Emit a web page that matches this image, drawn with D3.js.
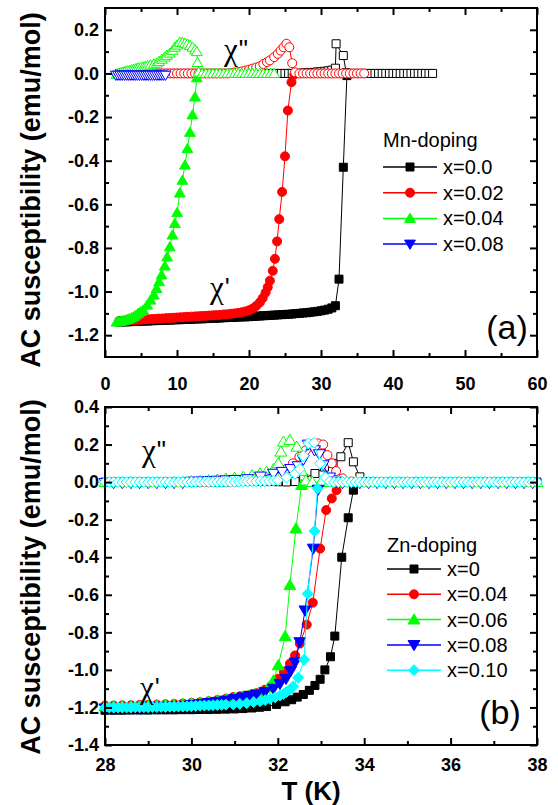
<!DOCTYPE html>
<html><head><meta charset="utf-8">
<script src="https://cdn.jsdelivr.net/npm/d3@7"></script>
<style>body{margin:0;background:#fff}svg{display:block}</style>
</head><body>
<svg id="c" width="558" height="805"></svg>
<script>
// ---------------- DATA : panel (a) Mn-doping ----------------
const mnLabels = ["x=0.0", "x=0.02", "x=0.04", "x=0.08"];
const mnTitle = "Mn-doping";
// x=0.0  chi' (T, value) and chi'' (T, value)
const mn0T1 = [2,2.5,3,3.5,4,4.5,5,5.5,6,6.5,7,7.5,8,8.5,9,9.5,10,10.5,11,11.5,12,12.5,13,13.5,14,14.5,15,15.5,16,16.5,17,17.5,18,18.5,19,19.5,20,20.5,21,21.5,22,22.5,23,23.5,24,24.5,25,25.5,26,26.5,27,27.5,28,28.5,29,29.5,30,30.5,31,31.5,32.0,32.5,33.1,33.6];
const mn0V1 = [-1.140,-1.139,-1.139,-1.138,-1.137,-1.137,-1.136,-1.135,-1.135,-1.134,
  -1.133,-1.133,-1.132,-1.131,-1.131,-1.130,-1.129,-1.129,-1.128,-1.127,
  -1.127,-1.126,-1.125,-1.125,-1.124,-1.123,-1.122,-1.122,-1.121,-1.120,
  -1.119,-1.119,-1.118,-1.117,-1.116,-1.116,-1.115,-1.114,-1.113,-1.112,
  -1.111,-1.110,-1.109,-1.108,-1.107,-1.106,-1.105,-1.104,-1.103,-1.101,
  -1.100,-1.098,-1.097,-1.095,-1.093,-1.091,-1.088,-1.085,-1.081,-1.075,
  -1.065,-0.943,-0.430,-0.010];
const mn0T2 = [2,2.5,3,3.5,4,4.5,5,5.5,6,6.5,7,7.5,8,8.5,9,9.5,10,10.5,11,11.5,12,12.5,13,13.5,14,14.5,15,15.5,16,16.5,17,17.5,18,18.5,19,19.5,20,20.5,21,21.5,22,22.5,23,23.5,24,24.5,25,25.5,26,26.5,27,27.5,28,28.5,29,29.5,30,30.5,31,31.5,32.0,32.1,33.1,33.5,34,34.5,35,35.5,36,36.5,37,37.5,38,38.5,39,39.5,40,40.5,41,41.5,42,42.5,43,43.5,44,44.5,45,45.5];
const mn0V2 = [0,0,0,0,0,0,0,0,0,0, 0,0,0,0,0,0,0,0,0,0, 0,0,0,0,0,0,0,0,0,0, 0,0,0,0,0,0,0,0,0,0, 0,0,0,0,0,0,0,0,0,0, 0,
  0.002,0.003,0.004,0.005,0.007,0.008,0.010,0.012,0.015,
  0.024,0.136,0.082,0.003,
  0,0,0,0,0,0,0,0,0,0, 0,0,0,0,0,0,0,0,0,0, 0,0,0,0];
// x=0.02
const mn2T1 = [2,2.5,3,3.5,4,4.5,5,5.5,6,6.5,7,7.5,8,8.5,9,9.5,10,10.5,11,11.5,12,12.5,13,13.5,14,14.5,15,15.5,16,16.5,17,17.5,18,18.5,19,19.5,20,20.5,21,21.5,21.9,22.3,22.6,22.9,23.3,23.6,23.9,24.2,24.6,25.0,25.4,25.9,26.3];
const mn2V1 = [-1.135,-1.134,-1.133,-1.132,-1.131,-1.130,-1.129,-1.128,-1.127,-1.126,
  -1.125,-1.124,-1.123,-1.122,-1.121,-1.120,-1.119,-1.118,-1.117,-1.116,
  -1.115,-1.114,-1.113,-1.112,-1.111,-1.110,-1.109,-1.108,-1.107,-1.105,
  -1.104,-1.102,-1.100,-1.098,-1.095,
  -1.091,-1.086,-1.078,-1.066,-1.050,-1.030,-1.005,-0.980,-0.950,-0.905,-0.850,-0.770,-0.668,-0.543,-0.380,-0.170,-0.040,-0.005];
const mn2T2 = [2,2.5,3,3.5,4,4.5,5,5.5,6,6.5,7,7.5,8,8.5,9,9.5,10,10.5,11,11.5,12,12.5,13,13.5,14,14.5,15,15.5,16,16.5,17,17.5,18,18.5,19,19.5,20,20.5,21.0,21.5,22.0,22.5,22.9,23.5,24.0,24.4,24.8,25.2,25.6,26.0,26.4,27,27.5,28,28.5,29,29.5,30,30.5,31,31.5,32,32.5,33,33.5,34,34.5,35,35.5,36];
const mn2V2 = [0,0,0,0,0,0,0,0,0,0, 0,0,0,0,0,0,0,0,0,0, 0,0,0,0,0,0,0,0,0,0, 0,
  0.002,0.004,0.006,0.009,0.013,0.017,
  0.022,0.027,0.033,0.043,0.052,0.060,0.075,0.090,0.105,0.120,0.136,0.120,0.047,0.005,
  0,0,0,0,0,0,0,0,0,0, 0,0,0,0,0,0,0,0,0];
// x=0.04
const mn4T1 = [1.6,1.9,2.2,2.5,2.8,3.1,3.4,3.7,4.0,4.3,4.6,4.95,5.3,5.86,6.33,6.79,7.16,7.52,7.85,8.31,8.63,9.0,9.37,9.7,10.02,10.39,10.75,11.1,11.45,11.8,12.15,12.5,12.75];
const mn4V1 = [-1.140,-1.138,-1.136,-1.134,-1.131,-1.128,-1.124,-1.120,-1.115,-1.108,-1.100,-1.093,-1.085,-1.062,-1.039,-1.016,-0.986,-0.955,-0.924,-0.883,-0.841,-0.795,-0.741,-0.688,-0.638,-0.548,-0.490,-0.420,-0.345,-0.270,-0.190,-0.108,-0.020];
const mn4T2 = [1.6,1.9,2.2,2.5,2.8,3.1,3.4,3.7,4.0,4.3,4.6,4.95,5.3,5.6,5.9,6.3,6.8,7.2,7.5,7.9,8.3,8.6,9.0,9.4,9.7,10.0,10.4,10.75,11.1,11.45,11.8,12.15,12.5,12.75,12.85,13.0,13.5,14,14.5,15,15.5,16,16.5,17,17.5,18,18.5,19,19.5,20,20.5,21,21.5,22,22.5,23,23.5];
const mn4V2 = [-0.005,0.000,0.003,0.006,0.009,0.012,0.014,0.017,0.019,0.022,0.025,0.027,0.029,0.032,0.035,0.039,0.043,0.047,0.055,0.065,0.075,0.083,0.093,0.106,0.120,0.130,0.143,0.142,0.138,0.135,0.128,0.120,0.108,0.100,0.050,0.006,
  0,0,0,0,0,0,0,0,0,0, 0,0,0,0,0,0,0,0,0,0, 0];
// x=0.08
const mn8T1 = [];
const mn8V1 = [];
const mn8T2 = [1.5,1.8,2.1,2.4,2.7,3.0,3.3,3.6,3.9,4.2,4.5,4.8,5.1,5.4,5.7,6.0,6.3,6.6,6.9,7.2,7.5,7.8,8.1,8.4];
const mn8V2 = [-0.008,-0.008,-0.008,-0.008,-0.008,-0.008,-0.008,-0.008,-0.008,-0.008,-0.008,-0.008,-0.008,-0.008,-0.008,-0.008,-0.008,-0.008,-0.008,-0.008,-0.008,-0.008,-0.008,-0.008];

// ---------------- DATA : panel (b) Zn-doping ----------------
const znLabels = ["x=0", "x=0.04", "x=0.06", "x=0.08", "x=0.10"];
const znTitle = "Zn-doping";
const zn0T1 = [28.0,28.2,28.4,28.6,28.8,29.0,29.2,29.4,29.6,29.8,30.0,30.2,30.4,30.6,30.8,31.0,31.2,31.4,31.58,31.74,31.97,32.17,32.32,32.45,32.59,32.73,32.86,32.98,33.09,33.22,33.32,33.48,33.63,33.75];
const zn0V1 = [-1.215,-1.215,-1.215,-1.214,-1.214,-1.214,-1.213,-1.213,-1.213,-1.212,
  -1.212,-1.211,-1.211,-1.210,-1.209,-1.208,-1.206,-1.203,-1.199,-1.195,
  -1.184,-1.170,-1.159,-1.145,-1.131,-1.109,-1.083,-1.050,-1.000,
  -0.930,-0.820,-0.400,-0.190,-0.043];
const zn0T2 = [28.0,28.2,28.4,28.6,28.8,29.0,29.2,29.4,29.6,29.8,30.0,30.2,30.4,30.6,30.8,31.0,31.2,31.4,31.6,31.8,32.0,32.2,32.4,32.6,32.86,33.08,33.28,33.46,33.63,33.75,33.9,34.05,34.2,34.4,34.6,34.8,35.0,35.2,35.4,35.6,35.8,36.0,36.2,36.4,36.6,36.8,37.0,37.2,37.4,37.6,37.8,38.0];
const zn0V2 = [0,0,0,0,0,0,0,0,0,0, 0,0,0,0,0,
  0.002,0.003,0.004,0.004,0.003,0.002,0.001,0.003,
  0.020,0.046,0.080,0.100,0.135,0.210,0.108,0.028,0.003,
  0,0,0,0,0,0,0,0,0,0, 0,0,0,0,0,0,0,0,0,0];
const zn4T1 = [28.0,28.2,28.4,28.6,28.8,29.0,29.2,29.4,29.6,29.8,30.0,30.2,30.4,30.6,30.8,30.97,31.12,31.28,31.4,31.51,31.7,31.86,32.01,32.14,32.28,32.4,32.51,32.67,32.81,32.98,33.12,33.25,33.36];
const zn4V1 = [-1.190,-1.190,-1.189,-1.188,-1.187,-1.186,-1.185,-1.183,-1.181,-1.179,
  -1.176,-1.172,-1.167,-1.161,-1.154,-1.145,-1.141,-1.136,-1.130,-1.124,
  -1.106,-1.083,-1.047,-1.010,-0.967,-0.923,-0.860,-0.759,-0.642,-0.354,
  -0.149,-0.087,-0.043];
const zn4T2 = [28.0,28.2,28.4,28.6,28.8,29.0,29.2,29.4,29.6,29.8,30.0,30.2,30.4,30.6,30.8,31.0,31.2,31.4,31.6,31.8,32.0,32.2,32.35,32.5,32.65,32.8,32.93,33.05,33.15,33.25,33.35,33.5,33.7,33.9,34.1,34.3,34.5,34.7,34.9,35.1,35.3,35.5,35.7,35.9,36.1,36.3,36.5,36.7,36.9,37.1,37.3,37.5,37.7,37.9];
const zn4V2 = [0,0,0,0,0,0,0,0,0,0, 0,0,
  0.002,0.003,0.004,0.005,0.007,0.009,0.012,
  0.020,0.040,0.070,0.100,0.135,0.170,0.200,0.206,0.200,0.144,0.100,0.059,0.020,0.003,
  0,0,0,0,0,0,0,0,0,0, 0,0,0,0,0,0,0,0,0,0, 0];
const zn6T1 = [28.0,28.2,28.4,28.6,28.8,29.0,29.2,29.4,29.6,29.8,30.0,30.2,30.4,30.6,30.8,31.0,31.2,31.33,31.47,31.63,31.78,31.9,32.01,32.17,32.28,32.42,32.55];
const zn6V1 = [-1.195,-1.195,-1.194,-1.193,-1.192,-1.191,-1.189,-1.187,-1.185,-1.182,
  -1.178,-1.174,-1.169,-1.163,-1.156,-1.149,-1.141,-1.136,-1.131,-1.118,
  -1.095,-1.056,-0.976,-0.821,-0.549,-0.247,-0.016];
const zn6T2 = [28.0,28.2,28.4,28.6,28.8,29.0,29.2,29.4,29.6,29.8,30.0,30.2,30.4,30.6,30.8,31.0,31.2,31.4,31.59,31.74,31.9,32.01,32.07,32.13,32.28,32.44,32.55,32.65,32.8,33.0,33.2,33.4,33.6,33.8,34.0,34.2,34.4,34.6,34.8,35.0,35.2,35.4,35.6,35.8,36.0,36.2,36.4,36.6,36.8,37.0,37.2,37.4,37.6,37.8,38.0];
const zn6V2 = [0,0,0,0,0,0,0,0,0,
  0.002,0.004,0.006,0.009,0.013,0.018,0.023,0.028,0.036,
  0.046,0.055,0.068,0.100,0.162,0.215,0.224,0.188,0.060,0.008,
  0,0,0,0,0,0,0,0,0,0, 0,0,0,0,0,0,0,0,0,0, 0,0,0,0,0,0,0];
const zn8T1 = [28.0,28.2,28.4,28.6,28.8,29.0,29.2,29.4,29.6,29.8,30.0,30.2,30.4,30.6,30.8,31.0,31.2,31.35,31.51,31.7,31.9,32.05,32.19,32.3,32.4,32.51,32.63,32.82,32.93];
const zn8V1 = [-1.205,-1.205,-1.204,-1.203,-1.202,-1.201,-1.199,-1.197,-1.194,-1.191,
  -1.187,-1.182,-1.176,-1.170,-1.163,-1.155,-1.146,
  -1.139,-1.131,-1.118,-1.100,-1.074,-1.047,-1.005,-0.960,-0.852,-0.683,-0.354,-0.040];
const zn8T2 = [28.0,28.2,28.4,28.6,28.8,29.0,29.2,29.4,29.6,29.8,30.0,30.2,30.4,30.6,30.8,31.0,31.3,31.6,31.9,32.1,32.3,32.47,32.59,32.7,32.85,32.96,33.05,33.2,33.35,33.5,33.7,33.9,34.1,34.3,34.5,34.7,34.9,35.1,35.3,35.5,35.7,35.9,36.1,36.3,36.5,36.7,36.9,37.1,37.3,37.5,37.7,37.9];
const zn8V2 = [-0.004,-0.004,-0.004,-0.004,-0.004,-0.004,-0.004,-0.004,-0.004,-0.004,
  0.003,0.004,0.006,0.008,0.010,0.012,
  0.016,0.030,0.045,0.055,0.070,0.085,0.120,0.200,0.170,0.149,0.090,0.025,0.003,
  -0.004,-0.004,-0.004,-0.004,-0.004,-0.004,-0.004,-0.004,-0.004,-0.004,
  -0.004,-0.004,-0.004,-0.004,-0.004,-0.004,-0.004,-0.004,-0.004,-0.004,-0.004,-0.004,-0.004];
const zn10T1 = [28.0,28.1,28.2,28.3,28.4,28.5,28.6,28.7,28.8,28.9,29.0,29.1,29.2,29.3,29.4,29.5,29.6,29.7,29.8,29.9,30.0,30.1,30.2,30.3,30.4,30.5,30.6,30.7,30.8,
  30.97,31.12,31.28,31.44,31.59,31.71,31.82,31.94,32.05,32.13,32.2,32.28,32.36,32.47,32.61,32.69,32.85,32.92];
const zn10V1 = [-1.200,-1.200,-1.200,-1.200,-1.200,-1.200,-1.200,-1.199,-1.199,-1.199,
  -1.199,-1.198,-1.198,-1.197,-1.197,-1.196,-1.196,-1.195,-1.195,-1.194,
  -1.193,-1.192,-1.191,-1.190,-1.189,-1.188,-1.187,-1.186,-1.185,
  -1.184,-1.181,-1.177,-1.172,-1.167,-1.161,-1.154,-1.146,-1.136,-1.128,-1.118,-1.105,-1.088,-1.042,-0.946,-0.594,-0.260,-0.034];
const zn10T2 = [28.0,28.1,28.2,28.3,28.4,28.5,28.6,28.7,28.8,28.9,29.0,29.1,29.2,29.3,29.4,29.5,29.6,29.7,29.8,29.9,
  30.0,30.1,30.2,30.3,30.4,30.5,30.6,30.7,30.8,30.9,31.0,31.1,31.2,31.3,31.4,31.5,31.6,31.7,31.8,31.9,
  32.0,32.2,32.4,32.51,32.59,32.71,32.84,32.98,33.1,33.2,
  33.3,33.4,33.5,33.6,33.7,33.8,33.9,34.0,34.1,34.2,34.3,34.4,34.5,34.6,34.7,34.8,34.9,35.0,35.1,35.2,35.3,35.4,35.5,35.6,
  35.7,35.8,35.9,36.0,36.1,36.2,36.3,36.4,36.5,36.6,36.7,36.8,36.9,37.0,37.1,37.2,37.3,37.4,37.5,37.6,37.7,37.8,37.9,38.0];
const zn10V2 = [0,0,0,0,0,0,0,0,0,0, 0,0,0,0,0,0,0,0,0,0, 0,0,0,0,0,0,0,0,0,0,
  0.002,0.002,0.003,0.003,0.004,0.004,0.005,0.005,0.006,0.008,
  0.010,0.025,0.045,0.070,0.140,0.206,0.210,0.100,0.025,0.003,
  0,0,0,0,0,0,0,0,0,0, 0,0,0,0,0,0,0,0,0,0, 0,0,0,0,
  0,0,0,0,0,0,0,0,0,0, 0,0,0,0,0,0,0,0,0,0, 0,0,0,0];

// axis ticks
const aXMajor = [0,10,20,30,40,50,60];
const aXMinor = [5,15,25,35,45,55];
const aYMajor = [0.2,0.0,-0.2,-0.4,-0.6,-0.8,-1.0,-1.2];
const aYMinor = [0.1,-0.1,-0.3,-0.5,-0.7,-0.9,-1.1];
const bXMajor = [28,30,32,34,36,38];
const bXMinor = [29,31,33,35,37];
const bYMajor = [0.4,0.2,0.0,-0.2,-0.4,-0.6,-0.8,-1.0,-1.2,-1.4];
const bYMinor = [0.3,0.1,-0.1,-0.3,-0.5,-0.7,-0.9,-1.1,-1.3];

// ---------------- STYLE ----------------
const FONT = "'Liberation Sans', Arial, Helvetica, sans-serif";
const mnStyle = [
  {color:"#000000", shape:"square", size:8},
  {color:"#ff0000", shape:"circle", size:9},
  {color:"#00ff00", shape:"up", size:10},
  {color:"#0000ff", shape:"down", size:10}];
const znStyle = [
  {color:"#000000", shape:"square", size:8},
  {color:"#ff0000", shape:"circle", size:9},
  {color:"#00ff00", shape:"up", size:11},
  {color:"#0000ff", shape:"down", size:11},
  {color:"#00ffff", shape:"diamond", size:11}];

function markerPath(shape, s){
  const p = d3.path(), h = s/2;
  if(shape==="square"){ p.rect(-h,-h,s,s); }
  else if(shape==="circle"){ p.moveTo(h,0); p.arc(0,0,h,0,2*Math.PI); p.closePath(); }
  else if(shape==="up"){ p.moveTo(0,-h*1.05); p.lineTo(h*1.08,h*0.8); p.lineTo(-h*1.08,h*0.8); p.closePath(); }
  else if(shape==="down"){ p.moveTo(0,h*1.05); p.lineTo(h*1.08,-h*0.8); p.lineTo(-h*1.08,-h*0.8); p.closePath(); }
  else { p.moveTo(0,-h); p.lineTo(h,0); p.lineTo(0,h); p.lineTo(-h,0); p.closePath(); }
  return p.toString();
}

const svg = d3.select("#c");

function drawPanel(o){
  const g = svg.append("g");
  const x = d3.scaleLinear().domain(o.xd).range([o.l, o.r]);
  const y = d3.scaleLinear().domain(o.yd).range([o.b, o.t]);
  const line = d3.line().x(d=>x(d[0])).y(d=>y(d[1]));
  o.series.forEach((s, i) => {
    const st = o.style[i];
    [[s[0], s[1], true], [s[2], s[3], false]].forEach(([T, V, filled]) => {
      const pts = d3.zip(T, V);
      if(!pts.length) return;
      g.append("path").datum(pts).attr("d", line)
        .attr("fill","none").attr("stroke", st.color).attr("stroke-width", 1);
      g.append("g").selectAll("path").data(pts).join("path")
        .attr("transform", d=>`translate(${x(d[0])},${y(d[1])})`)
        .attr("d", markerPath(st.shape, st.size))
        .attr("fill", filled ? st.color : "#ffffff")
        .attr("stroke", st.color).attr("stroke-width", 1);
    });
  });
  // axes
  const fmtY = d => d.toFixed(1);
  const addAxis = (axis, tr) => {
    const a = g.append("g").attr("transform", tr).call(axis);
    a.select(".domain").remove();
    a.selectAll(".tick line").attr("stroke","#000").attr("stroke-width",2);
    a.selectAll("text").attr("font-family", FONT).attr("font-weight","bold")
      .attr("font-size", 18).attr("fill","#000");
    return a;
  };
  addAxis(d3.axisBottom(x).tickValues(o.xMaj).tickSize(-7).tickPadding(o.xPad).tickFormat(d3.format("d")), `translate(0,${o.b})`);
  addAxis(d3.axisBottom(x).tickValues(o.xMin).tickSize(-4).tickFormat(""), `translate(0,${o.b})`);
  addAxis(d3.axisTop(x).tickValues(o.xMaj).tickSize(-7).tickFormat(""), `translate(0,${o.t})`);
  addAxis(d3.axisTop(x).tickValues(o.xMin).tickSize(-4).tickFormat(""), `translate(0,${o.t})`);
  addAxis(d3.axisLeft(y).tickValues(o.yMaj).tickSize(-7).tickPadding(6).tickFormat(fmtY), `translate(${o.l},0)`);
  addAxis(d3.axisLeft(y).tickValues(o.yMin).tickSize(-4).tickFormat(""), `translate(${o.l},0)`);
  addAxis(d3.axisRight(y).tickValues(o.yMaj).tickSize(-7).tickFormat(""), `translate(${o.r},0)`);
  addAxis(d3.axisRight(y).tickValues(o.yMin).tickSize(-4).tickFormat(""), `translate(${o.r},0)`);
  g.append("rect").attr("x", o.l).attr("y", o.t).attr("width", o.r-o.l).attr("height", o.b-o.t)
    .attr("fill","none").attr("stroke","#000").attr("stroke-width",2);

  // y label
  g.append("text").attr("transform", `translate(${o.ylx},${o.yly}) rotate(-90)`)
    .attr("text-anchor","middle").attr("font-family",FONT).attr("font-weight","bold")
    .attr("font-size",27).text("AC susceptibility (emu/mol)");
  // panel letter
  g.append("text").attr("x", o.px).attr("y", o.py).attr("text-anchor","middle")
    .attr("font-family",FONT).attr("font-size",34).text(o.panel);
  // chi labels
  const chi = (cx, cy, primes) => {
    const t = g.append("text").attr("x", cx).attr("y", cy).attr("font-family","'Liberation Serif', 'DejaVu Serif', serif").attr("font-size",31);
    t.append("tspan").text("χ");
    t.append("tspan").attr("font-family",FONT).attr("font-size",26).attr("dx",1).attr("dy",-2).text(primes);
  };
  chi(o.c2x, o.c2y, "\"");
  chi(o.c1x, o.c1y, "'");
  // legend
  g.append("text").attr("x", o.lgx).attr("y", o.lgy).attr("font-family",FONT)
    .attr("font-size",20).text(o.title);
  o.labels.forEach((lab, i) => {
    const st = o.style[i];
    const yy = o.lgy + o.lg0 + i*o.lgd;
    g.append("line").attr("x1", o.lgx).attr("x2", o.lgx+54).attr("y1", yy).attr("y2", yy)
      .attr("stroke", st.color).attr("stroke-width", 1.5);
    g.append("path").attr("transform", `translate(${o.lgx+27},${yy})`)
      .attr("d", markerPath(st.shape, st.size)).attr("fill", st.color).attr("stroke", st.color);
    g.append("text").attr("x", o.lgx+60).attr("y", yy+7).attr("font-family",FONT)
      .attr("font-size",20).text(lab);
  });
}

drawPanel({
  xd:[0,60], yd:[-1.3,0.3], l:105, r:537, t:8, b:357,
  xMaj:aXMajor, xMin:aXMinor, yMaj:aYMajor, yMin:aYMinor, xPad:20,
  series:[[mn0T1,mn0V1,mn0T2,mn0V2],[mn2T1,mn2V1,mn2T2,mn2V2],[mn4T1,mn4V1,mn4T2,mn4V2],[mn8T1,mn8V1,mn8T2,mn8V2]],
  style:mnStyle, labels:mnLabels, title:mnTitle,
  lgx:383, lgy:147, lg0:20, lgd:25.7,
  ylx:40, yly:190, px:507, py:339, panel:"(a)",
  c2x:224, c2y:60, c1x:210, c1y:298
});
drawPanel({
  xd:[28,38], yd:[-1.4,0.4], l:105, r:537, t:407, b:745,
  xMaj:bXMajor, xMin:bXMinor, yMaj:bYMajor, yMin:bYMinor, xPad:13,
  series:[[zn0T1,zn0V1,zn0T2,zn0V2],[zn4T1,zn4V1,zn4T2,zn4V2],[zn6T1,zn6V1,zn6T2,zn6V2],[zn8T1,zn8V1,zn8T2,zn8V2],[zn10T1,zn10V1,zn10T2,zn10V2]],
  style:znStyle, labels:znLabels, title:znTitle,
  lgx:387, lgy:552, lg0:17, lgd:25.3,
  ylx:40, yly:577, px:500, py:724, panel:"(b)",
  c2x:142, c2y:461, c1x:140, c1y:698
});
svg.append("text").attr("x",311).attr("y",800).attr("text-anchor","middle")
  .attr("font-family",FONT).attr("font-weight","bold").attr("font-size",26).text("T (K)");
</script>
</body></html>
